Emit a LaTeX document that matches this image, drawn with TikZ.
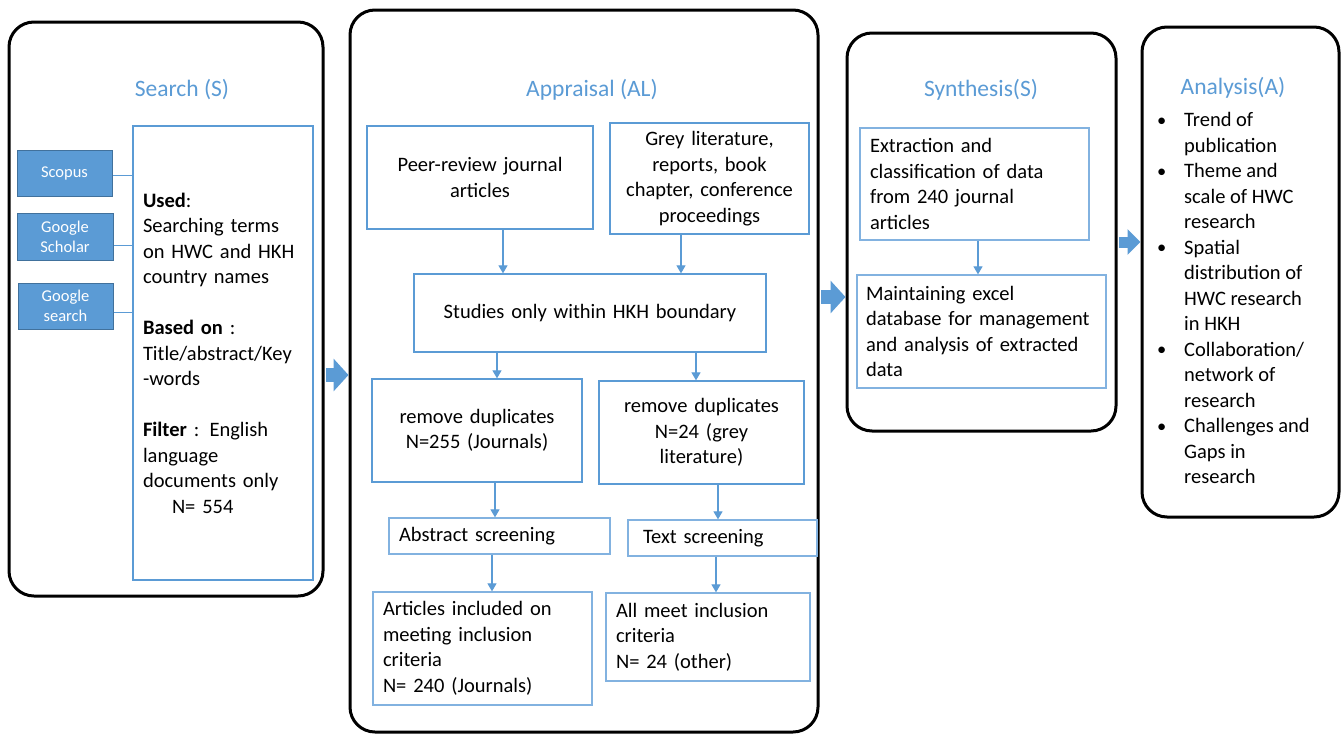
\documentclass[tikz,border=0pt]{standalone}
\usepackage{fontspec}
\setmainfont{Carlito}
\usepackage{xcolor}
\usepackage{tikz}
\usetikzlibrary{arrows.meta}
\definecolor{lblue}{RGB}{91, 155, 213}
\definecolor{dblue}{RGB}{65, 113, 156}
\definecolor{pblue}{RGB}{130, 178, 224}
\def\stageOutl{black}
\def\stepOutl{lblue}
\newcommand{\dotItem}{\raisebox{0.3pt}{\scalebox{0.9}{\textbullet}}}
\tikzset{>={Triangle[length=8pt,width=9pt]}}
\tikzset{
  outer/.style = {draw = \stageOutl, line width = 3pt, rounded corners = 25pt, inner sep = 0pt},
  ibox/.style = {draw = \stepOutl, line width = 1.3pt, inner xsep = 10pt, inner ysep = 0pt,
                 font = \fontsize{20.5}{25.5}\selectfont},
  dbase/.style = {draw = dblue, fill = lblue, line width = 1pt, text = white, align = center,
                  inner sep = 0pt, font = \fontsize{16.5}{20}\selectfont},
  ttl/.style = {text = lblue, font = \fontsize{23.5}{27}\selectfont},
  flow/.style = {draw = lblue, line width = 1.2pt, ->},
  bigarrow/.style = {draw = lblue, line width = 14pt, shorten <= 1.5pt,
                     -{Triangle[length=15pt,width=32pt]}}
}

\begin{document}
\begin{tikzpicture}[x=1pt, y=-1pt]
  \fill[white] (0, 0) rectangle (1341, 734);
  \useasboundingbox (0, 0) rectangle (1341, 734);
  % stages
  \node[outer, minimum width = 314pt, minimum height = 574pt] (srch) at (166, 309){};
  \node[outer, minimum width = 468pt, minimum height = 722pt] (appr) at (584, 371){};
  \node[outer, minimum width = 269pt, minimum height = 398pt] (synth) at (981.5, 232){};
  \node[outer, minimum width = 197pt, minimum height = 490pt] (anly) at (1240.5, 272){};
  \node[ttl] (srchT) at (182, 90){Search (S)};
  \node[ttl] (apprT) at (592, 90){Appraisal (AL)};
  \node[ttl] (synthT) at (981, 90){Synthesis(S)};
  \node[ttl] (anlyT) at (1233, 88){Analysis(A)};
  % search
  \node[ibox, text width = 160pt, minimum height = 454pt, align = left] (srIn) at (223, 353){%
    \textbf{Used}:\\ Searching terms\\ on HWC and HKH\\ country names\\[25.5pt]
    \textbf{Based on} :\\ Title/abstract/Key\\ -words\\[25.5pt]
    \textbf{Filter} : English\\ language\\ documents only\\ \hspace*{29pt}N= 554};
  \node[dbase, minimum width = 95pt, minimum height = 46pt] (scop) at (64.5, 173){Scopus};
  \node[dbase, minimum width = 96pt, minimum height = 47pt] (schol) at (65, 236.5){Google\\ Scholar};
  \node[dbase, minimum width = 95pt, minimum height = 46pt] (gsrch) at (65.5, 306){Google\\ search};
  \draw[draw = lblue, line width = 1pt] (scop.east |- 0, 175) -- (srIn.west |- 0, 175);
  \draw[draw = lblue, line width = 1pt] (schol.east |- 0, 245) -- (srIn.west |- 0, 245);
  \draw[draw = lblue, line width = 1pt] (gsrch.east |- 0, 312) -- (srIn.west |- 0, 312);
  % appraisal
  \node[ibox, text width = 206pt, minimum height = 103pt, align = center] (peer) at (480, 177.5){%
    Peer-review journal\\ articles};
  \node[ibox, text width = 179pt, minimum height = 111pt, align = center] (grey) at (709.5, 178.5){%
    Grey literature,\\ reports, book\\ chapter, conference\\ proceedings};
  \node[ibox, text width = 332pt, minimum height = 78pt, align = center] (hkh) at (590, 313){%
    Studies only within HKH boundary};
  \node[ibox, text width = 190pt, minimum height = 103pt, align = center] (dupJ) at (477, 430.5){%
    remove duplicates\\ N=255 (Journals)};
  \node[ibox, text width = 185pt, minimum height = 103pt, align = center] (dupG) at (701.5, 432.5){%
    remove duplicates\\ N=24 (grey\\ literature)};
  \node[ibox, draw = pblue, text width = 201pt, minimum height = 36pt, align = left] (absS) at (499.5, 536){%
    Abstract screening};
  \node[ibox, draw = pblue, inner xsep = 15pt, text width = 159pt, minimum height = 36pt, align = left] (txtS) at (722.5, 538){%
    Text screening};
  \node[ibox, draw = pblue, text width = 199pt, minimum height = 113pt, align = left] (inclJ) at (482.5, 648.5){%
    Articles included on\\ meeting inclusion\\ criteria\\ N= 240 (Journals)};
  \node[ibox, draw = pblue, text width = 184pt, minimum height = 88pt, align = left] (inclO) at (708, 637){%
    All meet inclusion\\ criteria\\ N= 24 (other)};
  \draw[flow] (peer.south -| 503, 0) -- (hkh.north -| 503, 0);
  \draw[flow] (grey.south -| 681, 0) -- (hkh.north -| 681, 0);
  \draw[flow] (hkh.south -| 497, 0) -- (dupJ.north -| 497, 0);
  \draw[flow] (hkh.south -| 696, 0) -- (dupG.north -| 696, 0);
  \draw[flow] (dupJ.south -| 495, 0) -- (absS.north -| 495, 0);
  \draw[flow] (dupG.south -| 718, 0) -- (txtS.north -| 718, 0);
  \draw[flow] (absS.south -| 492, 0) -- (inclJ.north -| 492, 0);
  \draw[flow] (txtS.south -| 716, 0) -- (inclO.north -| 716, 0);
  % synthesis
  \node[ibox, draw = pblue, text width = 209pt, minimum height = 112pt, align = left] (extr) at (974.5, 184){%
    Extraction and\\ classification of data\\ from 240 journal\\ articles};
  \node[ibox, draw = pblue, text width = 231pt, inner xsep = 9pt, minimum height = 113pt, align = left] (maint) at (981.5, 331.5){%
    Maintaining excel\\ database for management\\ and analysis of extracted\\ data};
  \draw[flow] (extr.south -| 978, 0) -- (maint.north -| 978, 0);
  % analysis
  \node[anchor = west, inner sep = 0pt, font = \fontsize{20.5}{25.5}\selectfont] (list) at (1157, 300){%
    \begin{tabular}{@{}p{27pt}@{}l@{}}
    \dotItem & Trend of\\ & publication\\
    \dotItem & Theme and\\ & scale of HWC\\ & research\\
    \dotItem & Spatial\\ & distribution of\\ & HWC research\\ & in HKH\\
    \dotItem & Collaboration/\\ & network of\\ & research\\
    \dotItem & Challenges and\\ & Gaps in\\ & research
    \end{tabular}};
  % between stages
  \draw[bigarrow] (srch.east |- 0, 375) -- (appr.west |- 0, 375);
  \draw[bigarrow] (appr.east |- 0, 297) -- (synth.west |- 0, 297);
  \draw[bigarrow, line width = 11pt, -{Triangle[length=13pt,width=25pt]}] (synth.east |- 0, 242) -- (anly.west |- 0, 242);
\end{tikzpicture}
\end{document}
